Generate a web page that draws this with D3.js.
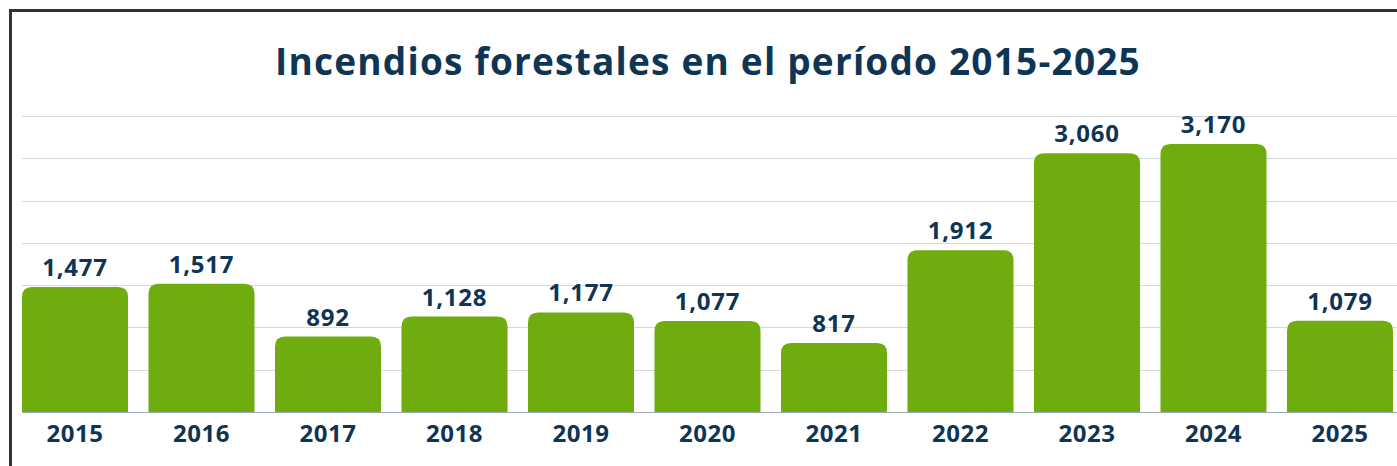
<!DOCTYPE html>
<html><head><meta charset="utf-8">
<script src="https://cdn.jsdelivr.net/npm/d3@7"></script>
<style>
html,body{margin:0;padding:0;background:#fff;overflow:hidden;}
text{font-family:"Open Sans","DejaVu Sans",sans-serif;font-weight:700;fill:#0F3554;}
</style></head>
<body>
<svg id="c" width="1397" height="466"></svg>
<script>
const years = ["2015","2016","2017","2018","2019","2020","2021","2022","2023","2024","2025"];
const fires = [1477,1517,892,1128,1177,1077,817,1912,3060,3170,1079];
const gridTicks = [0,500,1000,1500,2000,2500,3000,3500];
const title = "Incendios forestales en el período 2015-2025";

const svg = d3.select("#c");
// frame
svg.append("rect").attr("x",10.5).attr("y",10.5).attr("width",1500).attr("height",600)
  .attr("fill","#fff").attr("stroke","#333").attr("stroke-width",3);

const x = d3.scaleBand().domain(years).range([22,1393]).paddingInner(0.162).paddingOuter(0);
const y = d3.scaleLinear().domain([0,3500]).range([412,116]);

svg.append("g").selectAll("line").data(gridTicks).join("line")
  .attr("x1",22).attr("x2",1400)
  .attr("y1",d=>Math.round(y(d))+0.5).attr("y2",d=>Math.round(y(d))+0.5)
  .attr("stroke",d=>d===0?"#9aa8b8":"#d3d9e0").attr("stroke-width",1.2);

const r = 10;
svg.append("g").selectAll("path").data(years).join("path")
  .attr("fill","#6FAD0E")
  .attr("d",(d,i)=>{
    const x0=x(d), w=x.bandwidth(), yt=y(fires[i]), yb=y(0);
    return `M${x0},${yb}V${yt+r}Q${x0},${yt} ${x0+r},${yt}H${x0+w-r}Q${x0+w},${yt} ${x0+w},${yt+r}V${yb}Z`;
  });

const fmt = d3.format(",");
svg.append("g").selectAll("text").data(years).join("text")
  .attr("x",d=>x(d)+x.bandwidth()/2).attr("y",(d,i)=>y(fires[i])-11)
  .attr("text-anchor","middle").attr("font-size",24).attr("letter-spacing",0.8)
  .text((d,i)=>fmt(fires[i]));

svg.append("g").selectAll("text").data(years).join("text")
  .attr("x",d=>x(d)+x.bandwidth()/2).attr("y",442)
  .attr("text-anchor","middle").attr("font-size",24).attr("letter-spacing",0.5)
  .text(d=>d);

svg.append("text").attr("x",708).attr("y",75).attr("text-anchor","middle")
  .attr("font-size",37).attr("letter-spacing",1.2).text(title);
</script>
</body></html>
